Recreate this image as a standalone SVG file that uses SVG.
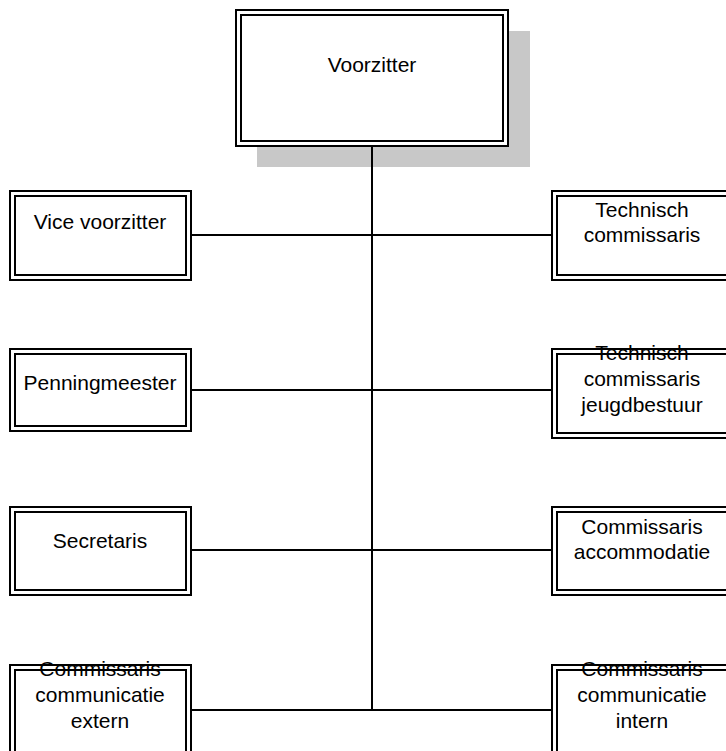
<svg xmlns="http://www.w3.org/2000/svg" width="726" height="751" viewBox="0 0 726 751">
  <style>
    .frame { fill: none; stroke: #000; stroke-width: 2; }
    .fill { fill: #fff; }
    .label { font-family: "Liberation Sans", Arial, sans-serif; font-size: 21px; fill: #000; text-anchor: middle; }
    .link { stroke: #000; stroke-width: 2; fill: none; }
  </style>
  <rect width="726" height="751" fill="#fff"/>

  <!-- chair, with drop shadow -->
  <g id="voorzitter">
    <rect x="257" y="31" width="273" height="136" fill="#c8c8c8"/>
    <rect class="fill" x="236" y="10" width="272" height="136"/>
    <rect class="frame" x="236" y="10" width="272" height="136"/>
    <rect class="frame" x="241" y="15" width="262" height="126"/>
    <text class="label" x="372" y="72">Voorzitter</text>
  </g>

  <!-- left column -->
  <g id="vice-voorzitter">
    <rect class="fill frame" x="10" y="191" width="181" height="89"/>
    <rect class="frame" x="15" y="196" width="171" height="79"/>
    <text class="label" x="100" y="229">Vice voorzitter</text>
  </g>
  <g id="penningmeester">
    <rect class="fill frame" x="10" y="349" width="181" height="82"/>
    <rect class="frame" x="15" y="354" width="171" height="72"/>
    <text class="label" x="100" y="390">Penningmeester</text>
  </g>
  <g id="secretaris">
    <rect class="fill frame" x="10" y="507" width="181" height="88"/>
    <rect class="frame" x="15" y="512" width="171" height="78"/>
    <text class="label" x="100" y="548">Secretaris</text>
  </g>
  <g id="communicatie-extern">
    <rect class="fill frame" x="10" y="665" width="181" height="95"/>
    <rect class="frame" x="15" y="670" width="171" height="85"/>
    <text class="label" x="100" y="676">Commissaris</text>
    <text class="label" x="100" y="702">communicatie</text>
    <text class="label" x="100" y="728">extern</text>
  </g>

  <!-- right column -->
  <g id="technisch-commissaris">
    <rect class="fill frame" x="552" y="191" width="181" height="89"/>
    <rect class="frame" x="557" y="196" width="171" height="79"/>
    <text class="label" x="642" y="217">Technisch</text>
    <text class="label" x="642" y="242">commissaris</text>
  </g>
  <g id="technisch-jeugdbestuur">
    <rect class="fill frame" x="552" y="349" width="181" height="89"/>
    <rect class="frame" x="557" y="354" width="171" height="79"/>
    <text class="label" x="642" y="360">Technisch</text>
    <text class="label" x="642" y="386">commissaris</text>
    <text class="label" x="642" y="412">jeugdbestuur</text>
  </g>
  <g id="commissaris-accommodatie">
    <rect class="fill frame" x="552" y="507" width="181" height="88"/>
    <rect class="frame" x="557" y="512" width="171" height="78"/>
    <text class="label" x="642" y="534">Commissaris</text>
    <text class="label" x="642" y="559">accommodatie</text>
  </g>
  <g id="communicatie-intern">
    <rect class="fill frame" x="552" y="665" width="181" height="95"/>
    <rect class="frame" x="557" y="670" width="171" height="85"/>
    <text class="label" x="642" y="676">Commissaris</text>
    <text class="label" x="642" y="702">communicatie</text>
    <text class="label" x="642" y="728">intern</text>
  </g>

  <!-- connectors: trunk from the chair, one branch per row -->
  <g id="connectors">
    <line class="link" x1="372" y1="147" x2="372" y2="710" stroke-width="2.5"/>
    <line class="link" x1="192" y1="235" x2="551" y2="235"/>
    <line class="link" x1="192" y1="390" x2="551" y2="390"/>
    <line class="link" x1="192" y1="550" x2="551" y2="550"/>
    <line class="link" x1="192" y1="710" x2="551" y2="710"/>
  </g>
</svg>
